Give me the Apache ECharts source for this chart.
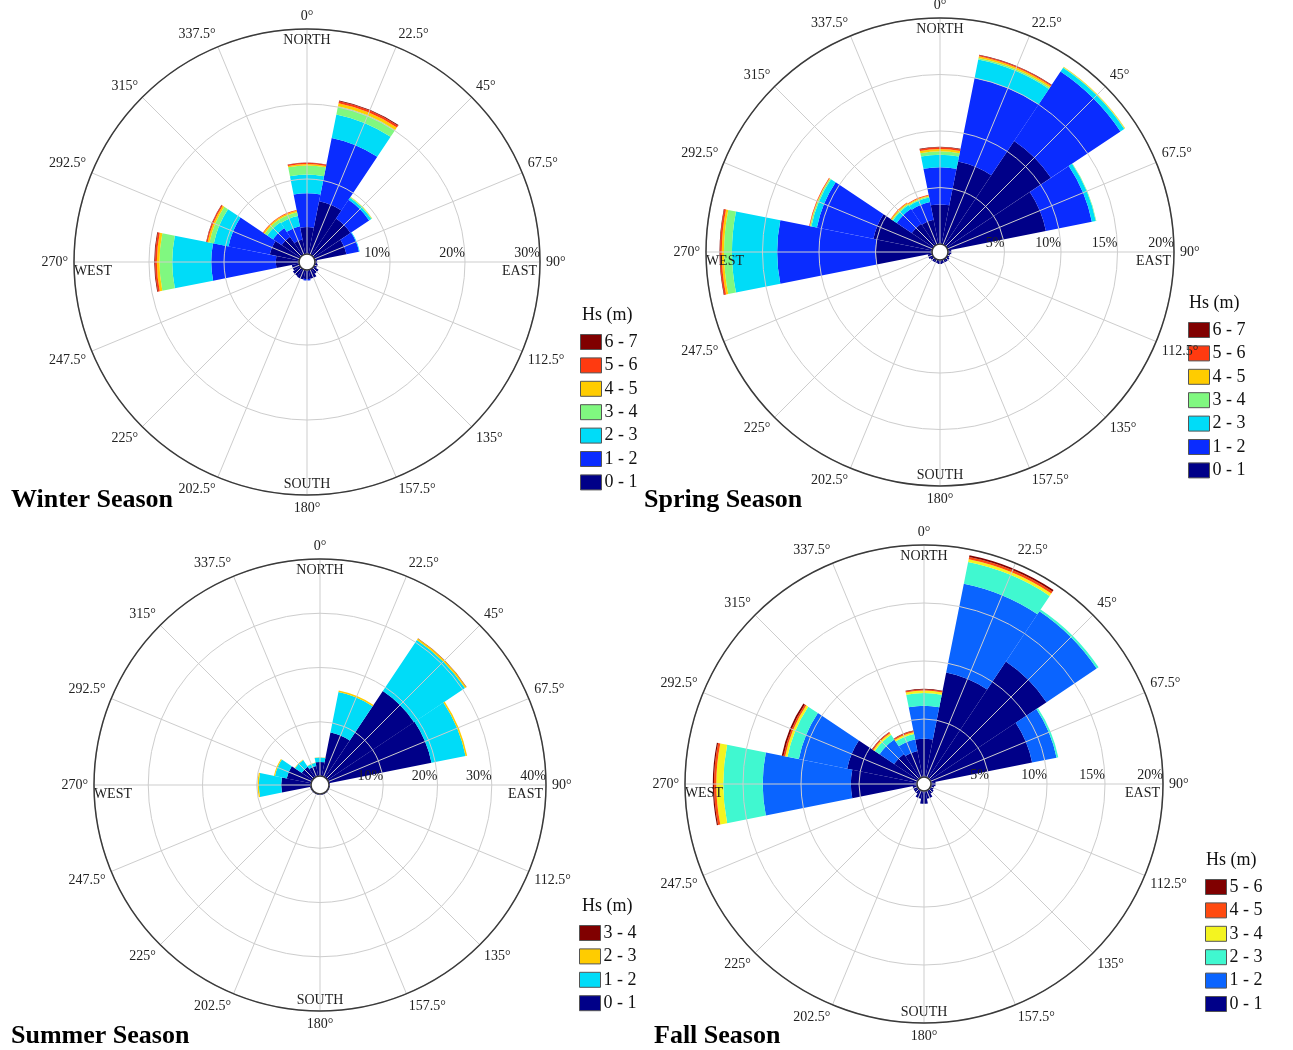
<!DOCTYPE html>
<html>
<head>
<meta charset="utf-8">
<script src="https://cdn.jsdelivr.net/npm/echarts@6/dist/echarts.min.js"></script>
<style>
html,body{margin:0;padding:0;background:#fff;}
#chart{width:1293px;height:1050px;}
</style>
</head>
<body>
<div id="chart"></div>
<script>
// ---------- DATA ----------
const directions = ['N','NNE','NE','ENE','E','ESE','SE','SSE','S','SSW','SW','WSW','W','WNW','NW','NNW'];
const compassNames = { N: 'NORTH', E: 'EAST', S: 'SOUTH', W: 'WEST' };

const binsSeven = ['0 - 1','1 - 2','2 - 3','3 - 4','4 - 5','5 - 6','6 - 7'];
const binsFour  = ['0 - 1','1 - 2','2 - 3','3 - 4'];
const binsSix   = ['0 - 1','1 - 2','2 - 3','3 - 4','4 - 5','5 - 6'];

// Winter (% occurrence per direction, per Hs bin)
const winterHs01 = [3.6, 7.2, 5.9, 4.3, 0.3, 0.4, 0.8, 1.2, 1.2, 1.3, 1.2, 1.0, 3.1, 4.0, 3.0, 2.0];
const winterHs12 = [4.5, 8.6, 3.0, 1.7, 0,   0,   0,   0,   0.2, 0,   0,   0,   8.6, 5.6, 1.4, 1.8];
const winterHs23 = [2.5, 3.2, 0.35,0.1, 0,   0,   0,   0,   0,   0,   0,   0,   5.2, 2.0, 0.9, 1.4];
const winterHs34 = [1.2, 1.1, 0.1, 0,   0,   0,   0,   0,   0,   0,   0,   0,   1.7, 0.6, 0.4, 0.5];
const winterHs45 = [0.2, 0.4, 0.05,0,   0,   0,   0,   0,   0,   0,   0,   0,   0.35,0.25,0.2, 0.2];
const winterHs56 = [0.15,0.3, 0,   0,   0,   0,   0,   0,   0,   0,   0,   0,   0.25,0.15,0.1, 0.1];
const winterHs67 = [0.05,0.1, 0,   0,   0,   0,   0,   0,   0,   0,   0,   0,   0.1, 0.05,0,   0];

// Spring
const springHs01 = [3.5, 7.45,11.1, 8.85,0.3, 0.2, 0.3, 0.3, 0.35,0.3, 0.3, 0.4, 5.0, 5.3, 2.3, 2.2];
const springHs12 = [3.3, 7.55,7.4, 4.15,0,   0,   0,   0,   0,   0,   0,   0,   8.7, 5.1, 1.6, 1.6];
const springHs23 = [1.1, 1.65,0.4, 0.35,0,   0,   0,   0,   0,   0,   0,   0,   4.0, 0.5, 0.4, 0.4];
const springHs34 = [0.3, 0.15,0.05,0.05,0,   0,   0,   0,   0,   0,   0,   0,   0.7, 0.1, 0.1, 0.1];
const springHs45 = [0.2, 0.15,0.05,0,   0,   0,   0,   0,   0,   0,   0,   0,   0.2, 0.05,0.1, 0.1];
const springHs56 = [0.15,0.1, 0,   0,   0,   0,   0,   0,   0,   0,   0,   0,   0.15,0.05,0.05,0.05];
const springHs67 = [0.05,0.05,0,   0,   0,   0,   0,   0,   0,   0,   0,   0,   0.05,0,   0,   0];

// Summer
const summerHs01 = [2.6, 8.2, 19.2,19.3,0.2, 0.15,0.15,0.15,0.15,0.15,0.15,0.2, 5.5, 4.6, 2.4, 1.9];
const summerHs12 = [0.8, 7.6, 11.3,6.4, 0,   0,   0,   0,   0,   0,   0,   0,   4.1, 2.2, 1.5, 0.6];
const summerHs23 = [0.05,0.3, 0.3, 0.3, 0,   0,   0,   0,   0,   0,   0,   0,   0.25,0.2, 0.1, 0.05];
const summerHs34 = [0,   0,   0.05,0,   0,   0,   0,   0,   0,   0,   0,   0,   0,   0,   0,   0];

// Fall
const fallHs01 = [3.3, 9.2, 12.1,8.9, 0.4, 0.3, 0.4, 0.7, 1.1, 0.7, 0.4, 0.4, 5.7, 6.15,2.5, 2.3];
const fallHs12 = [2.85,7.8, 5.2, 2.15,0,   0,   0,   0,   0,   0,   0,   0,   7.6, 4.25,1.5, 1.0];
const fallHs23 = [1.1, 1.9, 0.2, 0.15,0,   0,   0,   0,   0,   0,   0,   0,   3.4, 1.0, 0.5, 0.5];
const fallHs34 = [0.2, 0.25,0,   0,   0,   0,   0,   0,   0,   0,   0,   0,   0.6, 0.2, 0.15,0.15];
const fallHs45 = [0.1, 0.2, 0,   0,   0,   0,   0,   0,   0,   0,   0,   0,   0.2, 0.15,0.1, 0.1];
const fallHs56 = [0.05,0.15,0,   0,   0,   0,   0,   0,   0,   0,   0,   0,   0.1, 0.15,0.05,0.05];

// ---------- STYLE / LAYOUT ----------
const FONT = "'Liberation Serif', 'DejaVu Serif', serif";
const paletteSeven = ['#000088','#0a2cff','#00dcf8','#80f880','#ffcc00','#ff3a10','#800000'];
const paletteFour  = ['#000088','#00dcf8','#ffcc00','#800000'];
const paletteSix   = ['#000088','#0a64ff','#40f8d0','#f4f420','#ff4a10','#800000'];

const panels = [
  { key:'winter', title:'Winter Season', bins:binsSeven, colors:paletteSeven,
    values:[winterHs01,winterHs12,winterHs23,winterHs34,winterHs45,winterHs56,winterHs67],
    center:[307,262], radius:[8,233], max:30, interval:10,
    titlePos:[11,487], legTitlePos:[582,306], legendPos:[580,333] },
  { key:'spring', title:'Spring Season', bins:binsSeven, colors:paletteSeven,
    values:[springHs01,springHs12,springHs23,springHs34,springHs45,springHs56,springHs67],
    center:[940,252], radius:[8,234], max:20, interval:5,
    titlePos:[644,487], legTitlePos:[1189,294], legendPos:[1188,321] },
  { key:'summer', title:'Summer Season', bins:binsFour, colors:paletteFour,
    values:[summerHs01,summerHs12,summerHs23,summerHs34],
    center:[320,785], radius:[9,226], max:40, interval:10,
    titlePos:[11,1023], legTitlePos:[582,897], legendPos:[579,924] },
  { key:'fall', title:'Fall Season', bins:binsSix, colors:paletteSix,
    values:[fallHs01,fallHs12,fallHs23,fallHs34,fallHs45,fallHs56],
    center:[924,784], radius:[7,239], max:20, interval:5,
    titlePos:[654,1023], legTitlePos:[1206,851], legendPos:[1205,878] }
];

const polar = [], angleAxis = [], radiusAxis = [], series = [], title = [], legend = [];

panels.forEach((p, i) => {
  const a = 2 * i, b = 2 * i + 1;
  polar.push({ center: p.center, radius: p.radius });
  polar.push({ center: p.center, radius: p.radius });

  // polar A : bars (direction categories centred on the spokes)
  angleAxis.push({
    polarIndex: a, type: 'category', data: directions, startAngle: 101.25, clockwise: true,
    boundaryGap: true, z: 10,
    axisLine: { show: false }, axisTick: { show: false }, splitLine: { show: false },
    axisLabel: {
      interval: 0, margin: -38, fontFamily: FONT, fontSize: 14, lineHeight: 18, color: '#222',
      formatter: v => {
        if (v === 'N') return compassNames.N + '\n';
        if (v === 'E') return '\n' + compassNames.E;
        if (v === 'S') return '\n' + compassNames.S;
        if (v === 'W') return '\n' + compassNames.W;
        return '';
      }
    }
  });
  radiusAxis.push({ polarIndex: a, type: 'value', min: 0, max: p.max, show: false });

  // polar B : grid overlay (spokes, rings, degree labels, % labels)
  angleAxis.push({
    polarIndex: b, type: 'value', min: 0, max: 360, interval: 22.5, startAngle: 0, clockwise: true,
    z: 10,
    axisLine: { show: true, lineStyle: { color: '#3a3a3a', width: 1.5 } },
    axisTick: { show: false },
    splitLine: { show: true, lineStyle: { color: '#cdcdcd', width: 1 } },
    axisLabel: {
      margin: 6, fontFamily: FONT, fontSize: 14, color: '#222',
      formatter: v => (v >= 360 ? '' : ((v + 90) % 360) + '°')
    }
  });
  radiusAxis.push({
    polarIndex: b, type: 'value', min: 0, max: p.max, interval: p.interval, z: 10,
    axisLine: { show: false }, axisTick: { show: false },
    splitLine: { show: true, lineStyle: { color: '#cdcdcd', width: 1 } },
    axisLabel: {
      align: 'right', margin: 2, fontFamily: FONT, fontSize: 14, color: '#222',
      formatter: v => (v === 0 ? '' : v + '%')
    }
  });

  p.bins.forEach((bin, k) => {
    series.push({
      type: 'bar', coordinateSystem: 'polar', polarIndex: a, stack: 'st' + i,
      name: bin + '|' + p.key, data: p.values[k], barCategoryGap: '0%',
      itemStyle: { color: p.colors[k] }, silent: true, z: 2
    });
  });

  title.push({
    text: p.title, left: p.titlePos[0], top: p.titlePos[1], padding: 0,
    textStyle: { fontFamily: FONT, fontWeight: 'bold', fontSize: 26, color: '#000' }
  });
  title.push({
    text: 'Hs (m)', left: p.legTitlePos[0], top: p.legTitlePos[1], padding: 0,
    textStyle: { fontFamily: FONT, fontWeight: 'normal', fontSize: 18, color: '#111' }
  });

  legend.push({
    orient: 'vertical', left: p.legendPos[0], top: p.legendPos[1], padding: 0,
    icon: 'rect', itemWidth: 21, itemHeight: 15, itemGap: 5.4, selectedMode: false,
    data: p.bins.map(bin => bin + '|' + p.key).reverse(),
    formatter: name => name.split('|')[0],
    itemStyle: { borderColor: '#555', borderWidth: 1 },
    textStyle: { fontFamily: FONT, fontSize: 18, lineHeight: 17, color: '#111', padding: [0, 0, 0, -2] }
  });
});

const chart = echarts.init(document.getElementById('chart'), null, { renderer: 'canvas' });
chart.setOption({
  animation: false,
  backgroundColor: '#fff',
  title, legend, polar, angleAxis, radiusAxis, series
});
</script>
</body>
</html>
